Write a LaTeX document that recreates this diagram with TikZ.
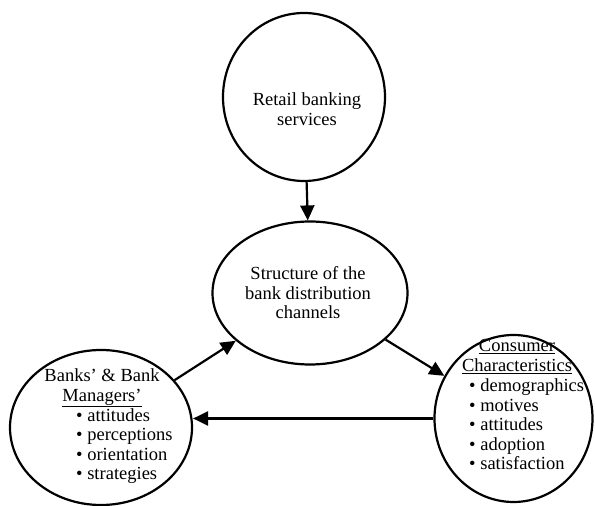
\documentclass[tikz,border=0pt]{standalone}
\usepackage{fontspec}
\setmainfont{Liberation Serif}
\usetikzlibrary{shapes.geometric,arrows.meta}

\begin{document}
\begin{tikzpicture}[x=1pt,y=1pt,
    blob/.style={draw, ellipse, line width=2.2pt, inner sep=0pt},
    txt/.style={font=\fontsize{18.5}{19.5}\selectfont, align=center, inner sep=0pt},
    arr/.style={-{Triangle[length=15pt,width=14pt]}, line width=2.2pt}]
  % \draw[help lines, gray!50, very thin] (0,0) grid[step=50] (595,506);
  \useasboundingbox (0,0) rectangle (595,506);

  \node[blob, minimum width=162pt, minimum height=168pt] (retail) at (304,409) {};
  \node[txt] (retailtxt) at (307,397) {Retail banking\\services};

  \node[blob, minimum width=195pt, minimum height=143pt] (struct) at (310,213) {};
  \node[txt] (structtxt) at (308,213) {Structure of the\\bank distribution\\channels};

  \node[blob, minimum width=182pt, minimum height=155pt] (banks) at (101,78.5) {};
  \node[txt] (bankstxt) at (102,118) {Banks' \& Bank\\\underline{Managers'}};
  \node[txt, anchor=west, align=left] (bankslist) at (76,60)
    {\textbullet~attitudes\\\textbullet~perceptions\\\textbullet~orientation\\\textbullet~strategies};

  \node[blob, minimum width=158pt, minimum height=167pt] (cons) at (513.5,87.5) {};
  \node[txt] (constxt) at (517,149.5) {\underline{Consumer}\\\underline{Characteristics}};
  \node[txt, anchor=west, align=left] (conslist) at (469,81.5)
    {\textbullet~demographics\\\textbullet~motives\\\textbullet~attitudes\\\textbullet~adoption\\\textbullet~satisfaction};

  \draw[arr] (retail) -- (struct);
  \draw[arr] (banks) -- (struct);
  \draw[arr] (struct) -- (cons);
  \draw[arr] (cons.west) -- (cons.west -| banks.east);
\end{tikzpicture}
\end{document}
